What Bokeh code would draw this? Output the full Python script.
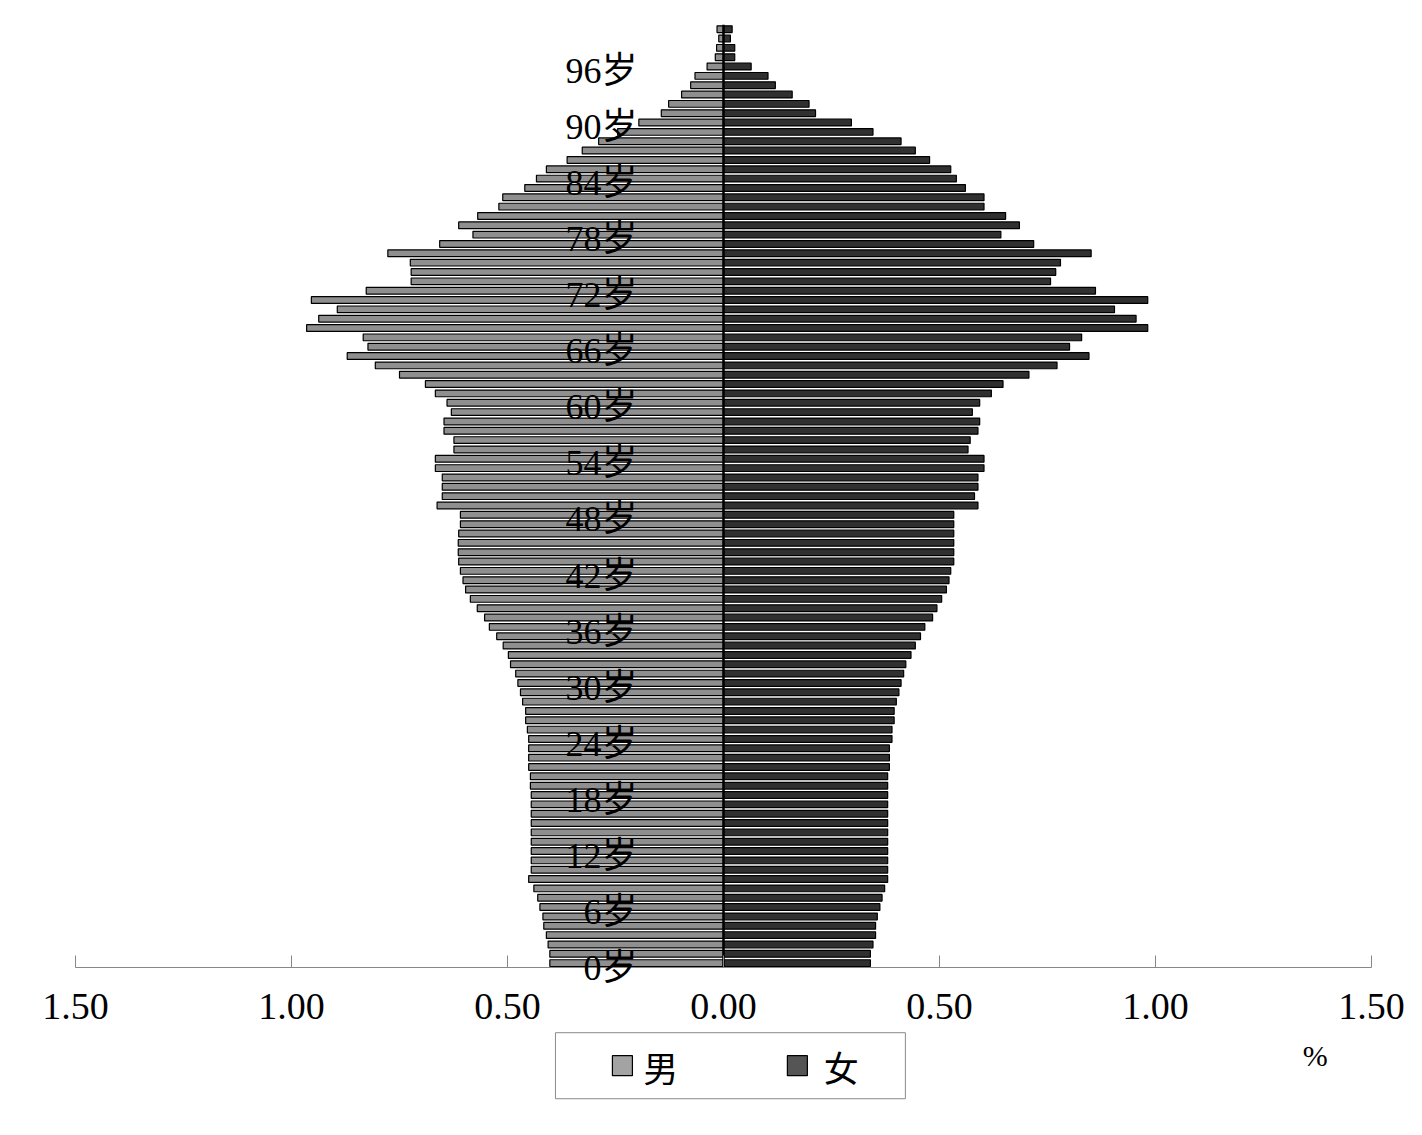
from bokeh.plotting import figure
from bokeh.models import Range1d, FixedTicker, LabelSet, ColumnDataSource, CustomJSTickFormatter
from bokeh.embed import file_html
from bokeh.resources import INLINE
from bokeh.core.properties import value

# ---------------- data ----------------
ages = list(range(0, 101))

male = [
    0.402, 0.402, 0.406, 0.410, 0.416, 0.418, 0.425, 0.430, 0.439, 0.451,   # 0-9
    0.445, 0.445, 0.445, 0.445, 0.445, 0.445, 0.445, 0.445, 0.445, 0.447,   # 10-19
    0.447, 0.451, 0.451, 0.451, 0.451, 0.454, 0.458, 0.458, 0.465, 0.470,   # 20-29
    0.476, 0.481, 0.493, 0.498, 0.510, 0.525, 0.542, 0.553, 0.570, 0.586,   # 30-39
    0.597, 0.603, 0.609, 0.613, 0.614, 0.614, 0.613, 0.609, 0.609, 0.663,   # 40-49
    0.651, 0.651, 0.651, 0.667, 0.667, 0.624, 0.624, 0.647, 0.647, 0.630,   # 50-59
    0.640, 0.667, 0.690, 0.750, 0.806, 0.871, 0.823, 0.834, 0.965, 0.937,   # 60-69
    0.894, 0.954, 0.827, 0.723, 0.723, 0.725, 0.777, 0.657, 0.580, 0.613,   # 70-79
    0.569, 0.520, 0.511, 0.460, 0.433, 0.410, 0.362, 0.327, 0.289, 0.245,   # 80-89
    0.196, 0.144, 0.127, 0.097, 0.076, 0.066, 0.038, 0.019, 0.016, 0.011,   # 90-99
    0.015,                                                                  # 100
]

female = [
    0.340, 0.340, 0.346, 0.352, 0.352, 0.356, 0.362, 0.367, 0.373, 0.380,   # 0-9
    0.380, 0.380, 0.380, 0.380, 0.380, 0.380, 0.380, 0.380, 0.380, 0.380,   # 10-19
    0.380, 0.384, 0.384, 0.384, 0.390, 0.390, 0.395, 0.395, 0.400, 0.406,   # 20-29
    0.411, 0.417, 0.422, 0.434, 0.444, 0.456, 0.466, 0.484, 0.494, 0.505,   # 30-39
    0.516, 0.522, 0.526, 0.533, 0.533, 0.533, 0.533, 0.533, 0.533, 0.589,   # 40-49
    0.581, 0.589, 0.589, 0.603, 0.603, 0.566, 0.571, 0.589, 0.593, 0.576,   # 50-59
    0.593, 0.620, 0.647, 0.707, 0.772, 0.846, 0.801, 0.829, 0.982, 0.955,   # 60-69
    0.905, 0.982, 0.861, 0.757, 0.769, 0.780, 0.851, 0.718, 0.642, 0.685,   # 70-79
    0.653, 0.603, 0.603, 0.560, 0.539, 0.526, 0.477, 0.444, 0.411, 0.346,   # 80-89
    0.296, 0.213, 0.198, 0.159, 0.120, 0.103, 0.064, 0.026, 0.026, 0.016,   # 90-99
    0.020,                                                                  # 100
]

age_tick_values = [0, 6, 12, 18, 24, 30, 36, 42, 48, 54, 60, 66, 72, 78, 84, 90, 96]
age_tick_labels = ["0岁", "6岁", "12岁", "18岁", "24岁", "30岁", "36岁", "42岁", "48岁",
                   "54岁", "60岁", "66岁", "72岁", "78岁", "84岁", "90岁", "96岁"]
x_ticks = [-1.5, -1.0, -0.5, 0.0, 0.5, 1.0, 1.5]
legend_labels = ["男", "女"]
unit_label = "%"

# ---------------- style / geometry ----------------
SERIF = "'Liberation Serif', 'Noto Sans CJK SC', serif"
CJK = "'Noto Sans CJK SC', sans-serif"
MALE_COLOR = "#8f8f8f"
FEMALE_COLOR = "#303030"

Y_TOP = 100.5      # top of the category axis
Y_AXIS = -0.5      # where the value axis sits
Y_BOTTOM = -17.6   # frame continues below for the legend strip
X_LEFT, X_RIGHT = -1.6736, 1.5995   # frame is wider than the axis so end labels are not cut

p = figure(
    frame_width=1414, frame_height=1103,
    x_range=Range1d(X_LEFT, X_RIGHT), y_range=Range1d(Y_BOTTOM, Y_TOP),
    output_backend="svg", toolbar_location=None,
    min_border_left=0, min_border_right=0, min_border_top=24, min_border_bottom=0,
    y_axis_location=None, outline_line_color=None,
)
p.grid.visible = False

src = ColumnDataSource(dict(
    age=ages,
    male_left=[-v for v in male],
    female=female,
))
p.hbar(y="age", left="male_left", right=0, height=0.72, source=src,
       fill_color=MALE_COLOR, line_color="black", line_width=1.2)
p.hbar(y="age", left=0, right="female", height=0.72, source=src,
       fill_color=FEMALE_COLOR, line_color="black", line_width=1.2)

# vertical category axis line at zero
p.segment(x0=[0], y0=[Y_AXIS], x1=[0], y1=[Y_TOP], line_color="black", line_width=2.5)

ax = p.xaxis[0]
ax.fixed_location = Y_AXIS
ax.bounds = (x_ticks[0], x_ticks[-1])
ax.ticker = FixedTicker(ticks=x_ticks)
ax.formatter = CustomJSTickFormatter(code="return Math.abs(tick).toFixed(2);")
ax.axis_line_color = "#878787"
ax.major_tick_line_color = "#878787"
ax.major_tick_in = 12
ax.major_tick_out = 0
ax.minor_tick_line_color = None
ax.major_label_text_font = SERIF
ax.major_label_text_font_size = "38px"
ax.major_label_text_color = "black"
ax.major_label_standoff = 26

lab_src = ColumnDataSource(dict(
    x=[0.0] * len(age_tick_values),
    y=[a - 0.5 for a in age_tick_values],
    text=age_tick_labels,
))
p.add_layout(LabelSet(x="x", y="y", text="text", source=lab_src, x_offset=-86,
                      text_align="right", text_baseline="middle",
                      text_font=value(SERIF), text_font_size="36px", text_color="black"))

# ---------------- legend (drawn in the lower part of the frame) ----------------
p.quad(left=[-0.389], right=[0.421], top=[-7.45], bottom=[-14.52], fill_color="white",
       line_color="#8a8a8a", line_width=1)
p.rect(x=[-0.234, 0.171], y=[-10.98, -10.98], width=20, height=20,
       width_units="screen", height_units="screen",
       fill_color=["#a3a3a3", "#555555"], line_color="black", line_width=1.2)
p.text(x=[-0.186, 0.232], y=[-11.05, -11.05], text=legend_labels, text_font=value(CJK),
       text_font_size="35px", text_baseline="middle", text_color="black")
p.text(x=[1.370], y=[-9.9], text=[unit_label], text_font=value(SERIF),
       text_font_size="30px", text_baseline="middle", text_align="center",
       text_color="black")

open("out.html", "w").write(file_html(p, INLINE))
